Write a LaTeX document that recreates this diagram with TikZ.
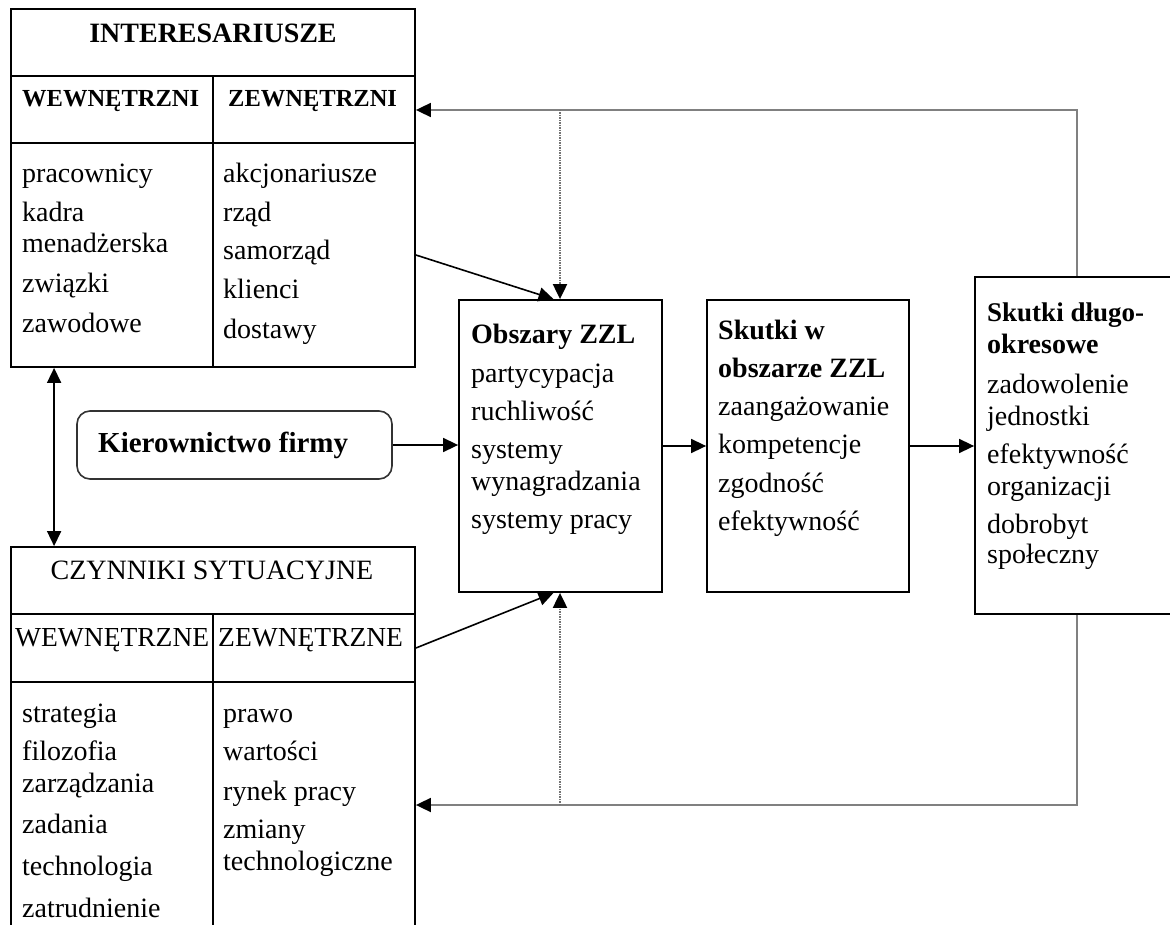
\documentclass[tikz,border=0pt]{standalone}
\usepackage{fontspec}
\setmainfont{Liberation Serif}
\usetikzlibrary{arrows.meta,fit}
\newcommand\mylbl[5][]{\node[txt,#1] (#2) at (#3,#4) {#5};}
\begin{document}
\begin{tikzpicture}[x=1pt,y=-1pt,
  cell/.style={draw, line width=1.8pt, inner sep=0pt},
  txt/.style={anchor=base west, inner sep=0pt, font=\fontsize{28}{30}\selectfont},
  bt/.style={font=\fontsize{28}{30}\selectfont\bfseries},
  sub/.style={font=\fontsize{24.5}{26}\selectfont\bfseries},
  tip/.style={Triangle[length=15pt,width=14pt]},
  arr/.style={line width=1.6pt, -{Triangle[length=15pt,width=14pt]}},
  darr/.style={line width=1.6pt, {Triangle[length=15pt,width=14pt]}-{Triangle[length=15pt,width=14pt]}},
  fb/.style={line width=1.8pt, draw=black!50, -{Triangle[length=15pt,width=14pt,color=black]}},
  dotl/.style={line width=2pt, draw=black!55, dash pattern=on 1.4pt off 1.1pt, -{Triangle[length=15pt,width=14pt,color=black]}}
]
\useasboundingbox (0,0) rectangle (1170,925);
\fill[white] (0,0) rectangle (1170,925);

% INTERESARIUSZE table
\node[cell, fit={(11,9) (415,76)}] (ih) {};
\node[cell, fit={(11,76) (213,143)}] (iwl) {};
\node[cell, fit={(213,76) (415,143)}] (iwr) {};
\node[cell, fit={(11,143) (213,367)}] (ill) {};
\node[cell, fit={(213,143) (415,367)}] (ilr) {};
\mylbl[bt,anchor=base]{ititle}{213}{43}{INTERESARIUSZE}
\mylbl[sub]{iw}{22}{107}{WEWNĘTRZNI}
\mylbl[sub]{iz}{228}{107}{ZEWNĘTRZNI}
\mylbl{a1}{22}{183}{pracownicy}
\mylbl{a2}{22}{222}{kadra}
\mylbl{a3}{22}{253}{menadżerska}
\mylbl{a4}{22}{293}{związki}
\mylbl{a5}{22}{332}{zawodowe}
\mylbl{b1}{223}{183}{akcjonariusze}
\mylbl{b2}{223}{222}{rząd}
\mylbl{b3}{223}{260}{samorząd}
\mylbl{b4}{223}{299}{klienci}
\mylbl{b5}{223}{338}{dostawy}

% CZYNNIKI table
\node[cell, fit={(11,547) (415,614)}] (ch) {};
\node[cell, fit={(11,614) (213,682)}] (cwl) {};
\node[cell, fit={(213,614) (415,682)}] (cwr) {};
\node[cell, fit={(11,682) (213,945)}] (cll) {};
\node[cell, fit={(213,682) (415,945)}] (clr) {};
\mylbl[anchor=base]{ctitle}{212}{579}{CZYNNIKI SYTUACYJNE}
\mylbl[font=\fontsize{27.5}{29}\selectfont]{cw}{15}{646}{WEWNĘTRZNE}
\mylbl[font=\fontsize{27.5}{29}\selectfont]{cz}{218}{646}{ZEWNĘTRZNE}
\mylbl{c1}{22}{722}{strategia}
\mylbl{c2}{22}{760}{filozofia}
\mylbl{c3}{22}{792}{zarządzania}
\mylbl{c4}{22}{833}{zadania}
\mylbl{c5}{22}{875}{technologia}
\mylbl{c6}{22}{917}{zatrudnienie}
\mylbl{d1}{223}{722}{prawo}
\mylbl{d2}{223}{760}{wartości}
\mylbl{d3}{223}{800}{rynek pracy}
\mylbl{d4}{223}{838}{zmiany}
\mylbl{d5}{223}{870}{technologiczne}

% Kierownictwo firmy
\node[draw, line width=1.6pt, draw=black!80, rounded corners=13pt, inner sep=0pt, fit={(77,411) (392,479)}] (kf) {};
\mylbl[font=\fontsize{29}{31}\selectfont\bfseries]{kft}{98}{452}{Kierownictwo firmy}

% Obszary ZZL
\node[cell, fit={(459,300) (662,592)}] (ob) {};
\mylbl[bt]{o1}{471}{343}{Obszary ZZL}
\mylbl{o2}{471}{382}{partycypacja}
\mylbl{o3}{471}{420}{ruchliwość}
\mylbl{o4}{471}{458}{systemy}
\mylbl{o5}{471}{490}{wynagradzania}
\mylbl{o6}{471}{528}{systemy pracy}

% Skutki w obszarze ZZL
\node[cell, fit={(707,300) (909,592)}] (sk) {};
\mylbl[bt]{s1}{718}{340}{Skutki w}
\mylbl[bt]{s2}{718}{377}{obszarze ZZL}
\mylbl{s3}{718}{415}{zaangażowanie}
\mylbl{s4}{718}{453}{kompetencje}
\mylbl{s5}{718}{492}{zgodność}
\mylbl{s6}{718}{530}{efektywność}

% Skutki dlugookresowe
\node[cell, fit={(975,277) (1175,614)}] (lt) {};
\mylbl[font=\fontsize{27}{29}\selectfont\bfseries]{l1}{987}{322}{Skutki długo-}
\mylbl[bt]{l2}{987}{353}{okresowe}
\mylbl{l3}{987}{393}{zadowolenie}
\mylbl{l4}{987}{425}{jednostki}
\mylbl{l5}{987}{463}{efektywność}
\mylbl{l6}{987}{495}{organizacji}
\mylbl{l7}{987}{533}{dobrobyt}
\mylbl{l8}{987}{563}{społeczny}

% connectors
\coordinate (fbt) at (1077,110);
\coordinate (fbb) at (1077,805);
\coordinate (dt) at (560,110);
\coordinate (db) at (560,805);

\draw[darr] ([xshift=44pt]ill.south west) -- ([xshift=44pt]ch.north west);
\draw[arr] (kf.east) -- (ob.west |- kf.east);
\draw[arr] (ob.east) -- (sk.west |- ob.east);
\draw[arr] (sk.east) -- (lt.west |- sk.east);
\draw[arr] (ilr.east) -- ([xshift=-7pt]ob.north);
\draw[arr] (cwr.east) -- ([xshift=-7pt]ob.south);
\draw[fb] (lt.north -| fbt) -- (fbt) -- (fbt -| iwr.east);
\draw[fb] (lt.south -| fbb) -- (fbb) -- (fbb -| clr.east);
\draw[dotl] (dt) -- (dt |- ob.north);
\draw[dotl] (db) -- (db |- ob.south);
\end{tikzpicture}
\end{document}
